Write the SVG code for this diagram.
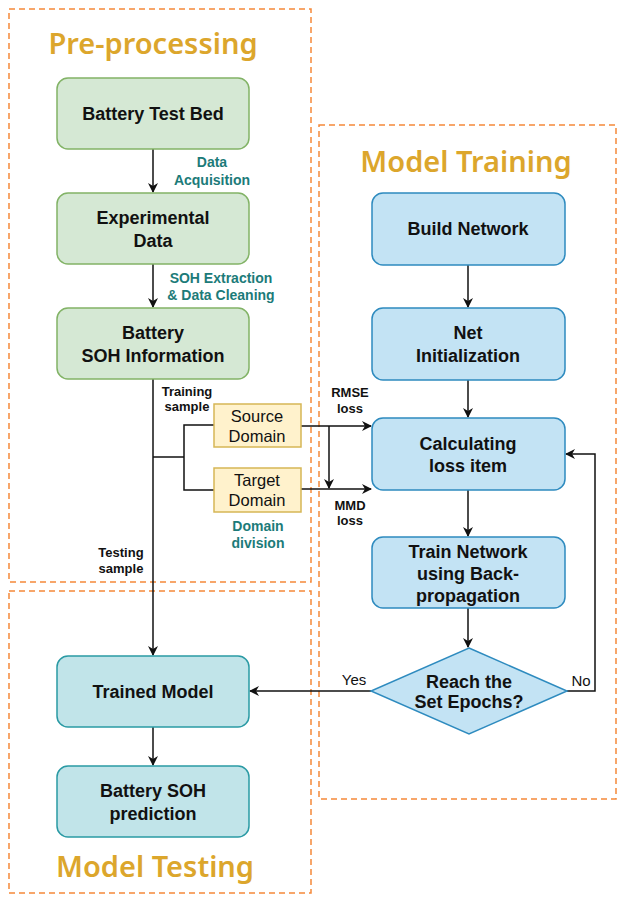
<svg xmlns="http://www.w3.org/2000/svg" width="617" height="897" viewBox="0 0 617 897">
<defs>
<style>
.region{fill:none;stroke:#F5893A;stroke-width:1.5;stroke-dasharray:6 4}
.title{font-family:"Noto Sans","Liberation Sans",sans-serif;font-size:29px;font-weight:600;fill:#DCA62C;text-anchor:middle}
.green{fill:#D5E8D4;stroke:#82B366;stroke-width:1.5}
.blue{fill:#C3E3F4;stroke:#2E8BBF;stroke-width:1.5}
.teal{fill:#C1E4E9;stroke:#2A9AA4;stroke-width:1.5}
.yellow{fill:#FFF2CC;stroke:#D6B656;stroke-width:1.5}
.nt{font-family:"Liberation Sans",Arial,sans-serif;font-size:18px;font-weight:bold;fill:#111;text-anchor:middle}
.dt{font-family:"Liberation Sans",Arial,sans-serif;font-size:16.5px;fill:#111;text-anchor:middle}
.lbl{font-family:"Liberation Sans",Arial,sans-serif;font-size:13px;font-weight:bold;fill:#111;text-anchor:middle}
.tl{font-family:"Liberation Sans",Arial,sans-serif;font-size:14px;font-weight:bold;fill:#1C7B79;text-anchor:middle}
.yn{font-family:"Liberation Sans",Arial,sans-serif;font-size:15px;fill:#111;text-anchor:middle}
.ln{fill:none;stroke:#111;stroke-width:1.5}
</style>
<marker id="arr" viewBox="0 0 10 10" refX="9" refY="5" markerWidth="10" markerHeight="10" markerUnits="userSpaceOnUse" orient="auto">
<path d="M0,0 L10,5 L0,10 L3,5 Z" fill="#111"/>
</marker>
</defs>
<rect width="617" height="897" fill="#fff"/>

<g id="regions">
<rect class="region" x="9" y="9" width="302" height="573"/>
<rect class="region" x="9" y="591" width="302" height="302"/>
<rect class="region" x="319" y="125" width="297" height="674"/>
<text class="title" x="153" y="54">Pre-processing</text>
<text class="title" x="466" y="172">Model Training</text>
<text class="title" x="155" y="877">Model Testing</text>
</g>

<g id="connectors">
<line class="ln" x1="153" y1="149" x2="153" y2="192" marker-end="url(#arr)"/>
<line class="ln" x1="153" y1="264" x2="153" y2="307" marker-end="url(#arr)"/>
<line class="ln" x1="153" y1="379" x2="153" y2="655" marker-end="url(#arr)"/>
<polyline class="ln" points="153,457 184,457"/>
<polyline class="ln" points="214,425 184,425 184,490 214,490"/>
<line class="ln" x1="301" y1="426" x2="371" y2="426" marker-end="url(#arr)"/>
<line class="ln" x1="301" y1="489" x2="371" y2="489" marker-end="url(#arr)"/>
<line class="ln" x1="329" y1="426" x2="329" y2="488" marker-end="url(#arr)"/>
<line class="ln" x1="153" y1="727" x2="153" y2="765" marker-end="url(#arr)"/>
<line class="ln" x1="468" y1="265" x2="468" y2="307" marker-end="url(#arr)"/>
<line class="ln" x1="468" y1="380" x2="468" y2="417" marker-end="url(#arr)"/>
<line class="ln" x1="468" y1="490" x2="468" y2="536" marker-end="url(#arr)"/>
<line class="ln" x1="468" y1="608" x2="468" y2="647" marker-end="url(#arr)"/>
<polyline class="ln" points="567,691 595,691 595,454 566,454" marker-end="url(#arr)"/>
<line class="ln" x1="371" y1="691" x2="250" y2="691" marker-end="url(#arr)"/>
<text class="tl" x="212" y="167">Data</text>
<text class="tl" x="212" y="185">Acquisition</text>
<text class="tl" x="221" y="283">SOH Extraction</text>
<text class="tl" x="221" y="300">&amp; Data Cleaning</text>
<text class="lbl" x="187" y="396">Training</text>
<text class="lbl" x="187" y="411">sample</text>
<text class="lbl" x="121" y="557">Testing</text>
<text class="lbl" x="121" y="573">sample</text>
<text class="lbl" x="350" y="397">RMSE</text>
<text class="lbl" x="350" y="413">loss</text>
<text class="lbl" x="350" y="510">MMD</text>
<text class="lbl" x="350" y="525">loss</text>
<text class="tl" x="258" y="531">Domain</text>
<text class="tl" x="258" y="548">division</text>
<text class="yn" x="354" y="685">Yes</text>
<text class="yn" x="581" y="686">No</text>
</g>

<g id="n-testbed"><rect class="green" x="57" y="78" width="192" height="71" rx="11"/><text class="nt" x="153" y="120">Battery Test Bed</text></g>
<g id="n-expdata"><rect class="green" x="57" y="193" width="192" height="71" rx="11"/><text class="nt" x="153" y="224">Experimental</text><text class="nt" x="153" y="247">Data</text></g>
<g id="n-sohinfo"><rect class="green" x="57" y="308" width="192" height="71" rx="11"/><text class="nt" x="153" y="339">Battery</text><text class="nt" x="153" y="362">SOH Information</text></g>
<g id="n-source"><rect class="yellow" x="214" y="404" width="87" height="43"/><text class="dt" x="257" y="422">Source</text><text class="dt" x="257" y="442">Domain</text></g>
<g id="n-target"><rect class="yellow" x="214" y="468" width="87" height="44"/><text class="dt" x="257" y="486">Target</text><text class="dt" x="257" y="506">Domain</text></g>
<g id="n-build"><rect class="blue" x="372" y="193" width="193" height="72" rx="11"/><text class="nt" x="468" y="235">Build Network</text></g>
<g id="n-init"><rect class="blue" x="372" y="308" width="193" height="72" rx="11"/><text class="nt" x="468" y="339">Net</text><text class="nt" x="468" y="362">Initialization</text></g>
<g id="n-calc"><rect class="blue" x="372" y="418" width="193" height="72" rx="11"/><text class="nt" x="468" y="450">Calculating</text><text class="nt" x="468" y="472">loss item</text></g>
<g id="n-train"><rect class="blue" x="372" y="537" width="193" height="71" rx="11"/><text class="nt" x="468" y="558">Train Network</text><text class="nt" x="468" y="580">using Back-</text><text class="nt" x="468" y="602">propagation</text></g>
<g id="n-epochs"><polygon class="blue" points="469,648 567,691 469,734 371,691"/><text class="nt" x="469" y="688">Reach the</text><text class="nt" x="469" y="708">Set Epochs?</text></g>
<g id="n-trained"><rect class="teal" x="57" y="656" width="192" height="71" rx="11"/><text class="nt" x="153" y="698">Trained Model</text></g>
<g id="n-predict"><rect class="teal" x="57" y="766" width="192" height="71" rx="11"/><text class="nt" x="153" y="797">Battery SOH</text><text class="nt" x="153" y="820">prediction</text></g>
</svg>
